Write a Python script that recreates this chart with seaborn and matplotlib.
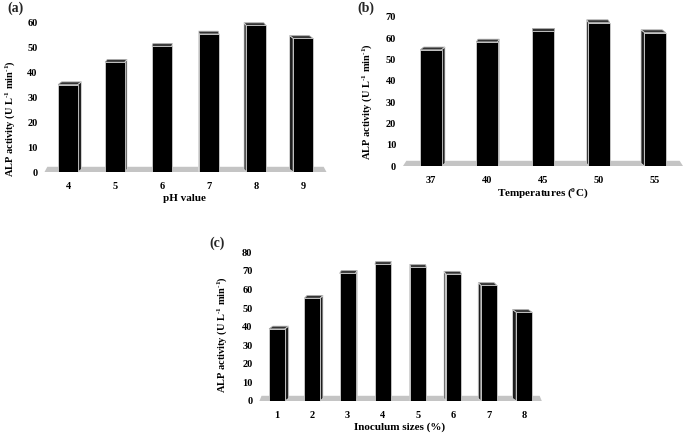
import numpy as np
import pandas as pd
import matplotlib
matplotlib.use("Agg")
import matplotlib.pyplot as plt
from matplotlib.patches import Polygon
import seaborn as sns

# ---- data ----
ph_labels = ["4", "5", "6", "7", "8", "9"]
ph_values = [35.2, 44.2, 50.6, 55.6, 59.0, 53.8]

temp_labels = ["37", "40", "45", "50", "55"]
temp_values = [54.6, 58.3, 63.5, 67.4, 62.7]

inoc_labels = ["1", "2", "3", "4", "5", "6", "7", "8"]
inoc_values = [38.8, 55.3, 68.7, 73.5, 71.9, 68.3, 62.2, 47.7]

sns.set_theme(style="white")
plt.rcParams["font.family"] = ["Liberation Serif", "DejaVu Serif"]
plt.rcParams["font.weight"] = "bold"
plt.rcParams["mathtext.fontset"] = "custom"
plt.rcParams["mathtext.rm"] = "Liberation Serif:bold"
plt.rcParams["mathtext.it"] = "Liberation Serif:bold"
plt.rcParams["mathtext.bf"] = "Liberation Serif:bold"
plt.rcParams["mathtext.default"] = "rm"

W, H = 685, 434
fig = plt.figure(figsize=(W / 100, H / 100), dpi=100)

ylab = "ALP activity (U L$^{\u2010 1}$ min$^{\u2010 1}$)".replace("\u2010 1", "\u20101")


def make_panel(rect_px, labels, values, ymax, step, bar_w, xlabel, ylab_coords, xlab_coords):
    left, bottom_y, right, top_y = rect_px
    ax = fig.add_axes([left / W, 1 - bottom_y / H, (right - left) / W, (bottom_y - top_y) / H])
    df = pd.DataFrame({"cat": labels, "val": values})
    sns.barplot(data=df, x="cat", y="val", order=labels, color="black",
                width=bar_w, ax=ax, saturation=1, zorder=3,
                edgecolor="#d0d0d0", linewidth=0.6)
    n = len(labels)
    ax.set_xlim(-0.5, n - 0.5)
    ax.set_ylim(0, ymax)
    center = (n - 1) / 2
    dy = ymax * 0.018
    # floor
    fh = ymax * 0.035
    floor = Polygon([(-0.5, 0), (n - 0.5, 0), (n - 0.5 - 0.06, fh), (-0.5 + 0.06, fh)],
                    closed=True, facecolor="#c4c4c4", edgecolor="none", zorder=1, clip_on=False)
    ax.add_patch(floor)
    for p in list(ax.patches):
        if p is floor:
            continue
        x = p.get_x(); w = p.get_width(); h = p.get_height()
        xc = x + w / 2
        dx = 0.03 * (center - xc)
        top = Polygon([(x, h), (x + w, h), (x + w + dx, h + dy), (x + dx, h + dy)],
                      closed=True, facecolor="#333333", edgecolor="#aaaaaa", linewidth=0.6,
                      zorder=2.5, clip_on=False)
        ax.add_patch(top)
        if abs(dx) > 0.01:
            sx = x + w if dx > 0 else x
            side = Polygon([(sx, 0), (sx, h), (sx + dx, h + dy), (sx + dx, dy)],
                           closed=True, facecolor="#1e1e1e", edgecolor="#d8d8d8", linewidth=0.6,
                           zorder=2.5, clip_on=False)
            ax.add_patch(side)
    for s in ax.spines.values():
        s.set_visible(False)
    ax.set_yticks(np.arange(0, ymax + 1, step))
    ax.tick_params(axis="both", length=0, labelsize=7.5, colors="black")
    ax.tick_params(axis="y", pad=5)
    ax.tick_params(axis="x", pad=7)
    for t in ax.get_xticklabels() + ax.get_yticklabels():
        t.set_fontweight("bold")
    ax.set_xlabel(xlabel, fontsize=8, fontweight="bold", color="black")
    ax.set_ylabel(ylab, fontsize=7.5, fontweight="bold", color="black")
    ax.xaxis.set_label_coords(*xlab_coords)
    ax.xaxis.label.set_va("center")
    ax.yaxis.set_label_coords(*ylab_coords)
    ax.yaxis.label.set_va("center")
    ax.grid(False)
    return ax


make_panel((44.5, 172, 326.5, 23), ph_labels, ph_values, 60, 10, 0.42,
           "pH value", (-0.122, 0.36), (0.498, -0.18))
make_panel((403, 166, 683, 17), temp_labels, temp_values, 70, 10, 0.38,
           r"Temperatures ($^{o}$C)", (-0.129, 0.43), (0.50, -0.18))
make_panel((259.4, 401, 541.8, 252.3), inoc_labels, inoc_values, 80, 10, 0.45,
           "Inoculum sizes (%)", (-0.133, 0.45), (0.498, -0.175))

fig.text(16 / W, 1 - 8 / H, "(a)", fontsize=10, fontweight="bold", ha="center", va="center")
fig.text(366 / W, 1 - 8 / H, "(b)", fontsize=10, fontweight="bold", ha="center", va="center")
fig.text(217 / W, 1 - 243 / H, "(c)", fontsize=10, fontweight="bold", ha="center", va="center")

fig.savefig("out.png", dpi=100, facecolor="white")
